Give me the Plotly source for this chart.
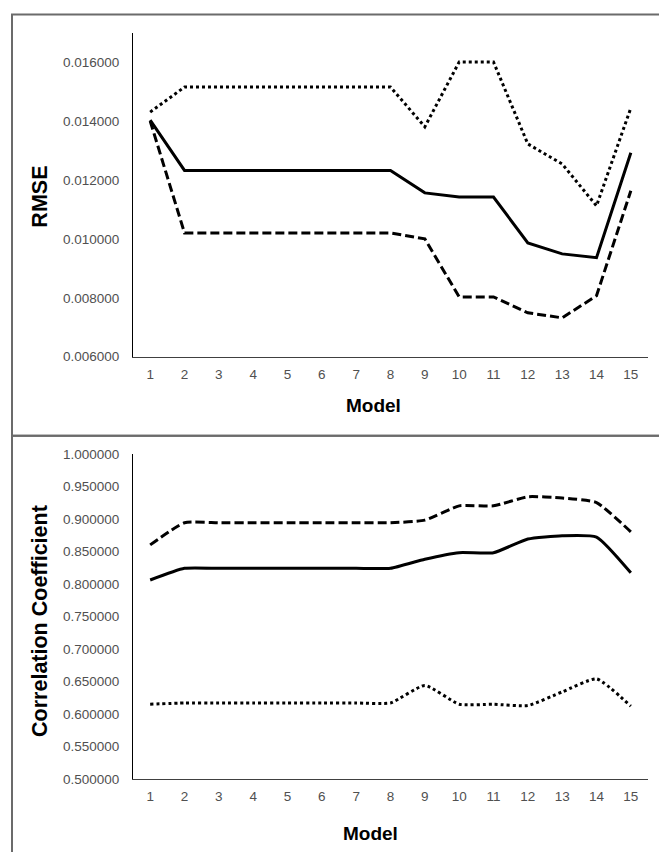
import plotly.graph_objects as go

W, H = 659, 852

models = list(range(1, 16))
tick_labels = [str(m) for m in models]

rmse_solid = [0.01403, 0.01232, 0.01232, 0.01232, 0.01232, 0.01232, 0.01232, 0.01232,
              0.01156, 0.01142, 0.01142, 0.00986, 0.00949, 0.00936, 0.01292]
rmse_dashed = [0.01400, 0.01020, 0.01020, 0.01020, 0.01020, 0.01020, 0.01020, 0.01020,
               0.01000, 0.00803, 0.00803, 0.00749, 0.00732, 0.00807, 0.01163]
rmse_dotted = [0.01430, 0.01515, 0.01515, 0.01515, 0.01515, 0.01515, 0.01515, 0.01515,
               0.01380, 0.01600, 0.01600, 0.01322, 0.01254, 0.01112, 0.01444]

cc_solid = [0.806, 0.824, 0.824, 0.824, 0.824, 0.824, 0.824, 0.824,
            0.838, 0.848, 0.848, 0.869, 0.874, 0.872, 0.817]
cc_dashed = [0.860, 0.894, 0.894, 0.894, 0.894, 0.894, 0.894, 0.894,
             0.898, 0.920, 0.920, 0.934, 0.932, 0.925, 0.880]
cc_dotted = [0.615, 0.617, 0.617, 0.617, 0.617, 0.617, 0.617, 0.617,
             0.644, 0.615, 0.615, 0.613, 0.634, 0.654, 0.612]

rmse_ticks = [0.006, 0.008, 0.010, 0.012, 0.014, 0.016]
cc_ticks = [0.50, 0.55, 0.60, 0.65, 0.70, 0.75, 0.80, 0.85, 0.90, 0.95, 1.00]

# the photographed page shows rows offset/compressed slightly; map target rows accordingly
V_OFF, V_SCALE = 6.5, 0.9817

def px(x):
    return x / W

def py(y):
    return 1 - ((y - V_OFF) / V_SCALE) / H

FONT = "Liberation Sans, Arial, sans-serif"
TICKFONT = dict(family=FONT, size=13.5, color="#505050")

fig = go.Figure()

styles = [None, "9px,4px", "3px,3px"]

for data, xa, ya, shape in [((rmse_solid, rmse_dashed, rmse_dotted), "x", "y", "linear"),
                            ((cc_solid, cc_dashed, cc_dotted), "x2", "y2", "spline")]:
    for vals, dash in zip(data, styles):
        line = dict(color="black", width=3, dash=dash if dash else "solid", shape=shape)
        if shape == "spline":
            line["smoothing"] = 0.5
        fig.add_trace(go.Scatter(
            x=models, y=vals, mode="lines", xaxis=xa, yaxis=ya,
            line=line, showlegend=False, hoverinfo="skip"))

xcommon = dict(range=[0.5, 15.5], tickmode="array", tickvals=models, ticktext=tick_labels,
               showgrid=False, zeroline=False, showline=True, linecolor="#404040", linewidth=1,
               ticks="outside", ticklen=5, tickcolor="rgba(0,0,0,0)", tickfont=TICKFONT,
               domain=[px(133), px(648)], fixedrange=True)

def title(text, x, y, angle=0, size=19):
    return dict(text=text, x=px(x), y=py(y), xref="paper", yref="paper",
                xanchor="center", yanchor="middle", showarrow=False, textangle=angle,
                font=dict(family=FONT, size=size, color="black"))

fig.update_layout(
    width=W, height=H, margin=dict(l=0, r=0, t=0, b=0),
    paper_bgcolor="white", plot_bgcolor="white",
    xaxis=dict(**xcommon, anchor="y"),
    xaxis2=dict(**xcommon, anchor="y2"),
    yaxis=dict(range=[0.006, 0.017], tickmode="array", tickvals=rmse_ticks,
               tickformat=".6f", showgrid=False, zeroline=False, showline=True,
               linecolor="black", linewidth=1, ticks="outside", ticklen=10,
               tickcolor="rgba(0,0,0,0)", tickfont=TICKFONT,
               domain=[py(356), py(32)], anchor="x", fixedrange=True),
    yaxis2=dict(range=[0.5, 1.0], tickmode="array", tickvals=cc_ticks,
                tickformat=".6f", showgrid=False, zeroline=False, showline=True,
                linecolor="black", linewidth=1, ticks="outside", ticklen=10,
                tickcolor="rgba(0,0,0,0)", tickfont=TICKFONT,
                domain=[py(778), py(453)], anchor="x2", fixedrange=True),
    shapes=[
        dict(type="rect", xref="paper", yref="paper", x0=px(12), x1=px(670),
             y0=py(435), y1=py(14), line=dict(color="#6b6b6b", width=2)),
        dict(type="rect", xref="paper", yref="paper", x0=px(12), x1=px(670),
             y0=py(880), y1=py(435), line=dict(color="#6b6b6b", width=2)),
    ],
    annotations=[
        title("<b>Model</b>", 373, 405),
        title("<b>Model</b>", 370, 832),
        title("<b>RMSE</b>", 40, 196, -90, 21.5),
        title("<b>Correlation Coefficient</b>", 40, 620, -90, 21.5),
    ],
)

post = ("document.body.style.margin='0';document.body.style.padding='0';"
        "var d=document.querySelector('.plotly-graph-div');"
        "d.style.position='fixed';d.style.top='0px';d.style.left='0px';")

fig.write_html("out.html", config={"displayModeBar": False, "staticPlot": True},
               post_script=post)
